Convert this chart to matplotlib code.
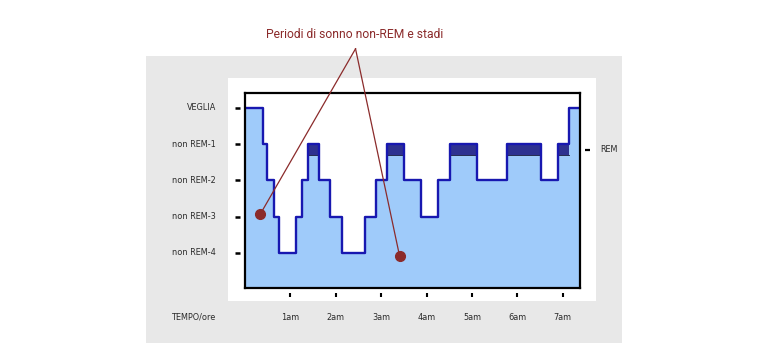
import matplotlib
matplotlib.use("Agg")
import matplotlib.pyplot as plt
import matplotlib.patches as mpatches
import matplotlib.transforms as mtransforms

# ---- data ----
stage_labels = ["VEGLIA", "non REM-1", "non REM-2", "non REM-3", "non REM-4"]
stage_levels = [0, 1, 2, 3, 4]
hour_labels = ["1am", "2am", "3am", "4am", "5am", "6am", "7am"]
hour_ticks = [1, 2, 3, 4, 5, 6, 7]

# transition times (hours after midnight) and stage entered at that time
times = [0.0, 0.389, 0.486, 0.631, 0.757, 1.126, 1.258, 1.391, 1.625, 1.883,
         2.126, 2.634, 2.892, 3.135, 3.501, 3.885, 4.260, 4.517, 5.121, 5.762,
         6.519, 6.887, 7.130, 7.38]
stages = [0, 1, 2, 3, 4, 3, 2, 1, 2, 3, 4, 3, 2, 1, 2, 3, 2, 1, 2, 1, 2, 1, 0, 0]
rem_start = [1.391, 3.135, 4.517, 5.762, 6.887]
rem_end = [1.625, 3.501, 5.121, 6.519, 7.130]

title_text = "Periodi di sonno non-REM e stadi"
dots_x = [0.338, 3.406]
dots_y = [2.93, 4.09]
apex = (2.435, -1.63)

# ---- figure ----
W, H = 768, 360
fig = plt.figure(figsize=(W / 100, H / 100), dpi=100)
fig.patch.set_facecolor("white")

def fig_rect(x0, y0, x1, y1, color):
    r = mpatches.Rectangle((x0 / W, 1 - y1 / H), (x1 - x0) / W, (y1 - y0) / H,
                           transform=fig.transFigure, facecolor=color,
                           edgecolor="none", zorder=-10)
    fig.patches.append(r)

fig_rect(146, 56, 622, 343, "#e8e8e8")
fig_rect(228, 78, 596, 301, "white")

ax = fig.add_axes([245 / W, 1 - 288 / H, 335 / W, 195 / H])
ax.set_zorder(2)
ax.set_facecolor("white")
ymin, ymax = -0.41, 4.97
ax.set_xlim(0, 7.38)
ax.set_ylim(ymax, ymin)

fill_col = "#9fcbfa"
line_col = "#1818b0"
rem_col = "#2e3190"

ax.fill_between(times, stages, ymax, step="post", color=fill_col, lw=0, zorder=1)
for s, e in zip(rem_start, rem_end):
    ax.fill_between([s, e], [1, 1], [1.3, 1.3], color=rem_col, lw=0, zorder=2)
    ax.plot([s, e], [1.3, 1.3], color="#111133", lw=0.6, zorder=2)
ax.step(times, stages, where="post", color=line_col, lw=1.7, zorder=3)

for sp in ax.spines.values():
    sp.set_color("black")
    sp.set_linewidth(1.6)
    sp.set_zorder(5)
ax.set_xticks([])
ax.set_yticks([])

txt_col = "#2a2a2a"
# y "ticks" and labels
ytrans = mtransforms.blended_transform_factory(ax.transAxes, ax.transData)
dx_tick = -7.5 / 335
dx_lab = -29 / 335
for lev, lab in zip(stage_levels, stage_labels):
    ax.plot([dx_tick - 2.5 / 335, dx_tick + 2.5 / 335], [lev, lev], transform=ytrans,
            color="black", lw=1.8, clip_on=False, solid_capstyle="butt")
    ax.text(dx_lab, lev, lab, transform=ytrans, ha="right", va="center",
            fontsize=5.9, color=txt_col)

# REM marker on right
rem_y = 1.15
ax.plot([1 + 5 / 335, 1 + 10 / 335], [rem_y, rem_y], transform=ytrans,
        color="black", lw=1.6, clip_on=False, solid_capstyle="butt")
ax.text(1 + 20 / 335, rem_y, "REM", transform=ytrans, ha="left", va="center",
        fontsize=5.9, color=txt_col)

# x ticks and labels
xtrans = mtransforms.blended_transform_factory(ax.transData, ax.transAxes)
for h, lab in zip(hour_ticks, hour_labels):
    ax.plot([h, h], [-5 / 195, -9 / 195], transform=xtrans, color="black",
            lw=1.5, clip_on=False, solid_capstyle="butt")
    ax.text(h, -29 / 195, lab, transform=xtrans, ha="center", va="center",
            fontsize=5.9, color=txt_col)
ax.text(-29 / 335, -29 / 195, "TEMPO/ore", transform=ax.transAxes, ha="right",
        va="center", fontsize=5.9, color=txt_col)

# annotation
ann_col = "#8b2b2b"
for dx, dy in zip(dots_x, dots_y):
    ax.plot([apex[0], dx], [apex[1], dy], color=ann_col, lw=0.9, clip_on=False, zorder=6)
    ax.plot(dx, dy, "o", color=ann_col, ms=7, clip_on=False, zorder=7)
fig.text(355 / W, 1 - 34 / H, title_text, ha="center", va="center",
         fontsize=8.7, color=ann_col, family="Roboto")

fig.savefig("out.png", dpi=100)
